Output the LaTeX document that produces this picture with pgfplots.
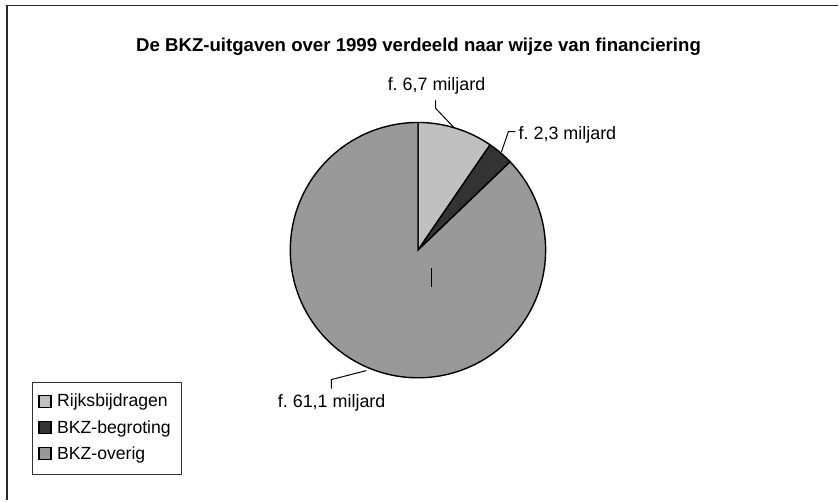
\documentclass[border=0pt]{standalone}
\usepackage{pgfplots}
\pgfplotsset{compat=1.18}
\usepackage{pgfplotstable}
\usepackage{fontspec}
\setmainfont{Liberation Sans}
\frenchspacing
\definecolor{cRijks}{RGB}{192,192,192}
\definecolor{cBegr}{RGB}{51,51,51}
\definecolor{cOver}{RGB}{153,153,153}
\definecolor{cFrame}{RGB}{40,40,40}

\pgfplotstableread{
label value
Rijksbijdragen 6.7
BKZ-begroting 2.3
BKZ-overig 61.1
}\piedata

\begin{document}
\begin{tikzpicture}
\pgfplotstablegetelem{0}{value}\of\piedata \let\va\pgfplotsretval
\pgfplotstablegetelem{1}{value}\of\piedata \let\vb\pgfplotsretval
\pgfplotstablegetelem{2}{value}\of\piedata \let\vc\pgfplotsretval
\pgfmathsetmacro{\tot}{\va+\vb+\vc}
\pgfmathsetmacro{\aA}{90}
\pgfmathsetmacro{\aB}{\aA-\va/\tot*360}
\pgfmathsetmacro{\aC}{\aB-\vb/\tot*360}
\pgfmathsetmacro{\aD}{\aC-\vc/\tot*360}
\begin{axis}[
  scale only axis, width=839bp, height=501bp,
  xmin=0, xmax=839, ymin=0, ymax=501, y dir=reverse,
  hide axis, clip=false,
]
\path (axis cs:0,0) rectangle (axis cs:839,501);
% frame
\draw[cFrame, line width=1.8bp] (axis cs:7.3,501) -- (axis cs:7.3,5.6) -- (axis cs:839,5.6);
% title
\node[anchor=base, font=\fontsize{18.7}{22}\selectfont\bfseries] at (axis cs:419,52) {De BKZ-uitgaven over 1999 verdeeld naar wijze van financiering};
% pie
\def\R{127.8bp}
\filldraw[fill=cRijks, draw=black, line width=1.4bp] (axis cs:418.4,250.4) -- ++(\aA:\R) arc[start angle=\aA, end angle=\aB, radius=\R] -- cycle;
\filldraw[fill=cBegr, draw=black, line width=1.4bp] (axis cs:418.4,250.4) -- ++(\aB:\R) arc[start angle=\aB, end angle=\aC, radius=\R] -- cycle;
\filldraw[fill=cOver, draw=black, line width=1.4bp] (axis cs:418.4,250.4) -- ++(\aC:\R) arc[start angle=\aC, end angle=\aD, radius=\R] -- cycle;
% leaders
\draw[black, line width=1bp] (axis cs:436,100.5) -- (axis cs:436,108.3) -- (axis cs:455,128.3);
\draw[black, line width=1bp] (axis cs:516,131.7) -- (axis cs:509,131.7) -- (axis cs:502,152);
\draw[black, line width=1bp] (axis cs:331.7,389) -- (axis cs:331.7,380) -- (axis cs:366.7,371);
\draw[black, line width=1.3bp] (axis cs:431.7,268) -- (axis cs:431.7,287);
% labels
\node[anchor=base, font=\fontsize{18}{21}\selectfont, inner sep=0pt] at (axis cs:437,91) {f. 6,7 miljard};
\node[anchor=base west, font=\fontsize{18}{21}\selectfont, inner sep=0pt] at (axis cs:519,140) {f. 2,3 miljard};
\node[anchor=base, font=\fontsize{18}{21}\selectfont, inner sep=0pt] at (axis cs:332,408) {f. 61,1 miljard};
% legend
\draw[black!80, line width=0.8bp, fill=white] (axis cs:32,383) rectangle (axis cs:182,474.5);
\filldraw[fill=cRijks, draw=black, line width=1.2bp] (axis cs:39,396) rectangle (axis cs:51,408);
\filldraw[fill=cBegr, draw=black, line width=1.2bp] (axis cs:39,422) rectangle (axis cs:51,434);
\filldraw[fill=cOver, draw=black, line width=1.2bp] (axis cs:39,448) rectangle (axis cs:51,460);
\node[anchor=base west, font=\fontsize{17.7}{21}\selectfont, inner sep=0pt] at (axis cs:57,407) {Rijksbijdragen};
\node[anchor=base west, font=\fontsize{17.7}{21}\selectfont, inner sep=0pt] at (axis cs:57,433.5) {BKZ-begroting};
\node[anchor=base west, font=\fontsize{17.7}{21}\selectfont, inner sep=0pt] at (axis cs:57,459.5) {BKZ-overig};
\end{axis}
\end{tikzpicture}
\end{document}
